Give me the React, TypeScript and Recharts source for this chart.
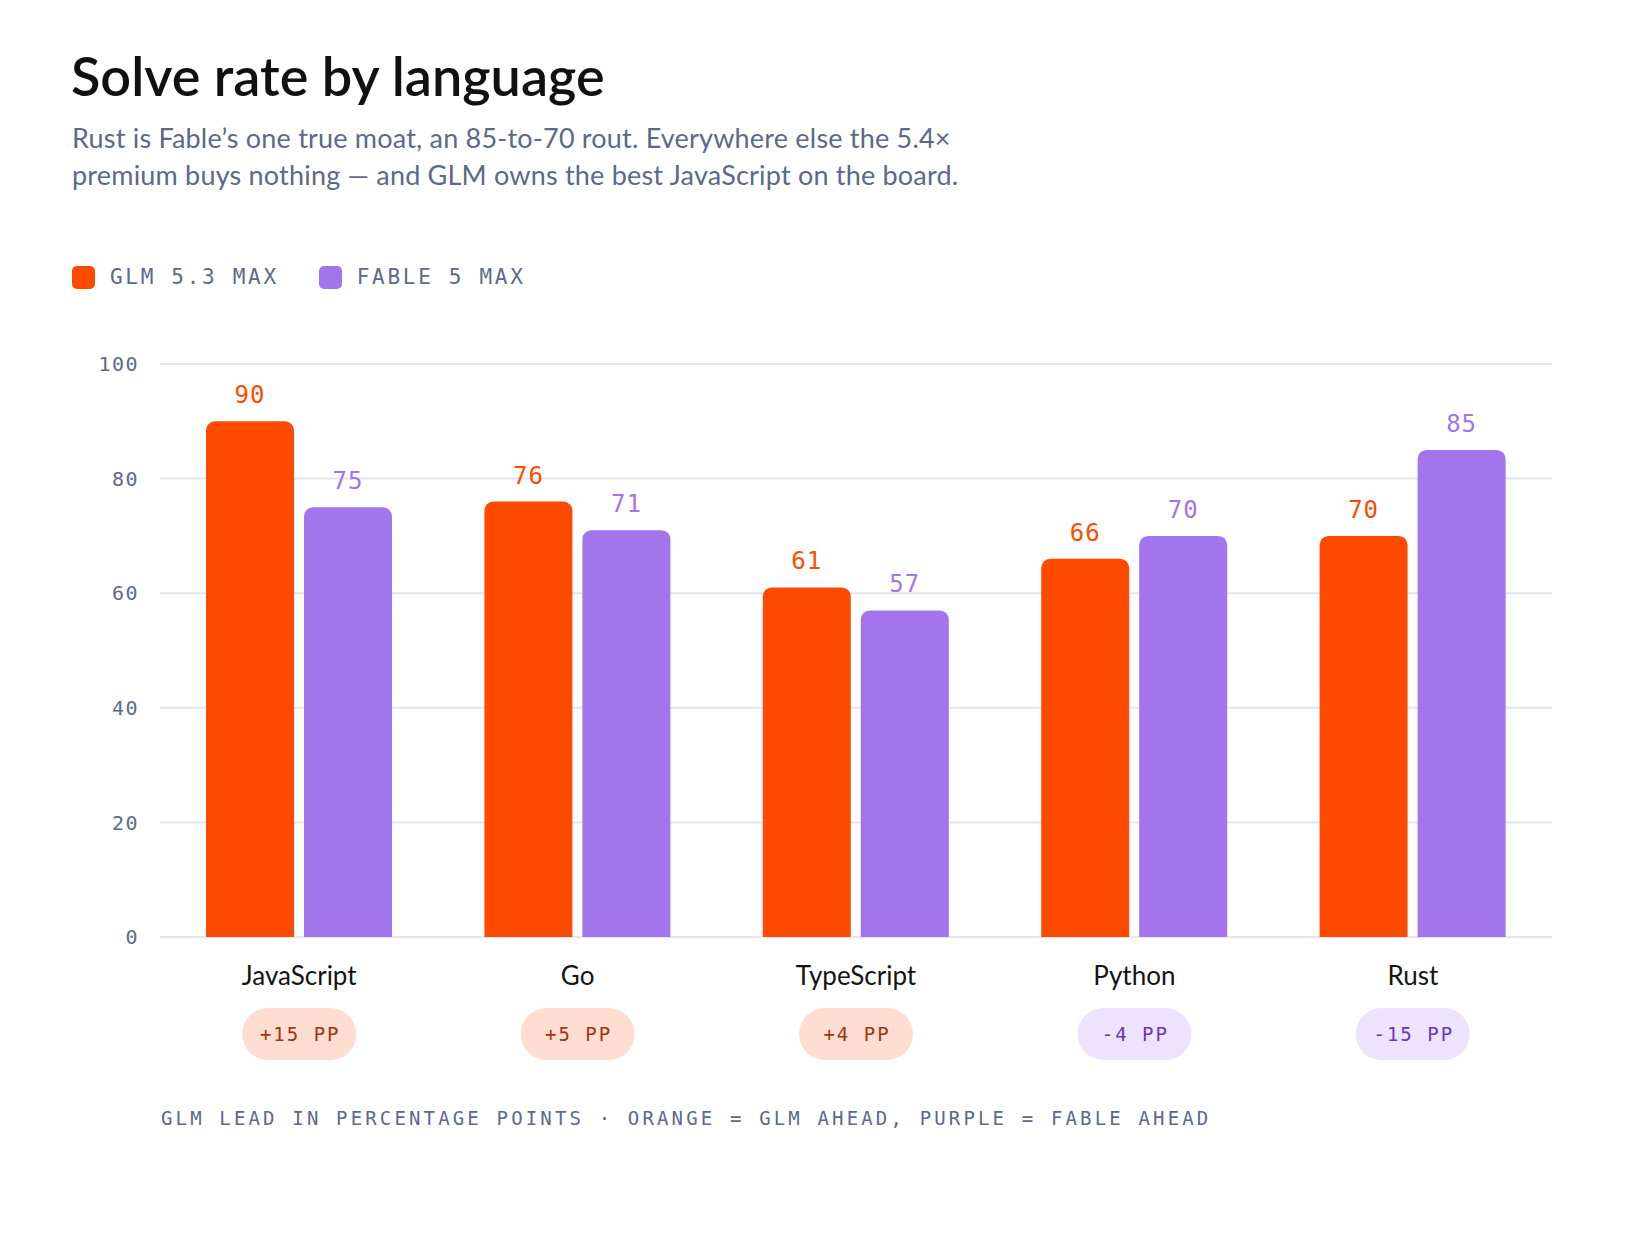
import { BarChart, Bar, XAxis, YAxis, CartesianGrid, LabelList } from 'recharts';

// Solve rate (%) per language for each model
const languages = ['JavaScript', 'Go', 'TypeScript', 'Python', 'Rust'];
const glmScores = [90, 76, 61, 66, 70];
const fableScores = [75, 71, 57, 70, 85];
const yTicks = [0, 20, 40, 60, 80, 100];

const ORANGE = '#FF4B00';
const PURPLE = '#A375EC';
const SLATE = '#5D6987';
const MONO = '"DejaVu Sans Mono", "Liberation Mono", monospace';
const SANS = 'Lato, "Noto Sans", sans-serif';

const data = languages.map((lang, i) => ({
  lang,
  glm: glmScores[i],
  fable: fableScores[i],
  lead: glmScores[i] - fableScores[i],
}));

const CategoryTick = ({ x, y, payload, index }: any) => {
  const lead = data[index]?.lead ?? 0;
  const ahead = lead > 0;
  const text = `${lead > 0 ? '+' : ''}${lead} PP`;
  return (
    <g transform={`translate(${x},${y})`}>
      <text x={0} y={48} textAnchor="middle" fontFamily={SANS} fontSize={26} fill="#141414">
        {payload.value}
      </text>
      <rect x={-57} y={71} width={114} height={52} rx={26} fill={ahead ? '#FFDDD0' : '#EDE3FC'} />
      <text
        x={0}
        y={104}
        dx={1}
        textAnchor="middle"
        fontFamily={MONO}
        fontSize={19}
        letterSpacing={2}
        fill={ahead ? '#9C3510' : '#6A34BE'}
      >
        {text}
      </text>
    </g>
  );
};

function LegendItem({ color, label }: { color: string; label: string }) {
  return (
    <div style={{ display: 'flex', alignItems: 'center', marginRight: 40 }}>
      <div style={{ width: 23, height: 23, borderRadius: 5, background: color, marginRight: 15 }} />
      <span style={{ fontFamily: MONO, fontSize: 21, letterSpacing: 2.7, color: SLATE }}>{label}</span>
    </div>
  );
}

export default function App() {
  return (
    <div style={{ position: 'relative', width: 1640, height: 1240, background: '#fff', overflow: 'hidden' }}>
      <style>{`body{margin:0}`}</style>
      <div
        style={{
          position: 'absolute', left: 71, top: 46, fontFamily: SANS, fontSize: 54, lineHeight: '60px',
          fontWeight: 600, color: '#111',
        }}
      >
        Solve rate by language
      </div>
      <div
        style={{
          position: 'absolute', left: 72, top: 119, fontFamily: SANS, fontSize: 27, lineHeight: '37px',
          letterSpacing: 0.2, color: SLATE,
        }}
      >
        <div>Rust is Fable’s one true moat, an 85-to-70 rout. Everywhere else the 5.4×</div>
        <div>premium buys nothing — and GLM owns the best JavaScript on the board.</div>
      </div>
      <div style={{ position: 'absolute', left: 72, top: 265, display: 'flex' }}>
        <LegendItem color={ORANGE} label="GLM 5.3 MAX" />
        <LegendItem color={PURPLE} label="FABLE 5 MAX" />
      </div>

      <div style={{ position: 'absolute', left: 0, top: 0 }}>
        <BarChart
          width={1640}
          height={1240}
          data={data}
          margin={{ top: 364, right: 88, bottom: 163, left: 100 }}
          barSize={88}
          barGap={10}
        >
          <CartesianGrid vertical={false} stroke="#E3E5EC" strokeWidth={2} />
          <XAxis
            dataKey="lang"
            axisLine={false}
            tickLine={false}
            tickSize={0}
            tickMargin={0}
            height={140}
            interval={0}
            tick={<CategoryTick />}
          />
          <YAxis
            width={60}
            domain={[0, 100]}
            ticks={yTicks}
            axisLine={false}
            tickLine={false}
            tickMargin={15}
            tick={{ fill: SLATE, fontSize: 20, fontFamily: MONO, letterSpacing: 1.5 }}
          />
          <Bar dataKey="glm" fill={ORANGE} radius={[9, 9, 0, 0]} isAnimationActive={false}>
            <LabelList
              dataKey="glm"
              position="top"
              offset={18}
              fill={ORANGE}
              fontSize={24}
              fontFamily={MONO}
              letterSpacing={1}
            />
          </Bar>
          <Bar dataKey="fable" fill={PURPLE} radius={[9, 9, 0, 0]} isAnimationActive={false}>
            <LabelList
              dataKey="fable"
              position="top"
              offset={18}
              fill={PURPLE}
              fontSize={24}
              fontFamily={MONO}
              letterSpacing={1}
            />
          </Bar>
        </BarChart>
      </div>

      <div
        style={{
          position: 'absolute', left: 161, top: 1106, fontFamily: MONO, fontSize: 19, lineHeight: '24px',
          letterSpacing: 3.15, color: SLATE,
        }}
      >
        GLM LEAD IN PERCENTAGE POINTS · ORANGE = GLM AHEAD, PURPLE = FABLE AHEAD
      </div>
    </div>
  );
}
